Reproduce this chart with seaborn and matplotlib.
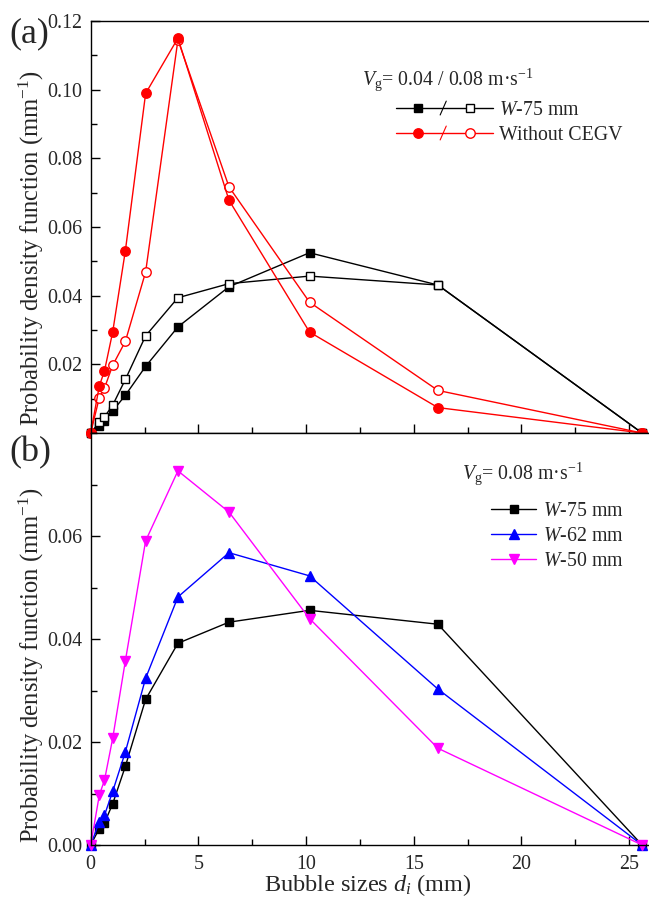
import numpy as np
import matplotlib
matplotlib.use("Agg")
import matplotlib.pyplot as plt
from matplotlib.lines import Line2D
from matplotlib.legend_handler import HandlerBase
from matplotlib.ticker import MultipleLocator, FixedLocator
import seaborn as sns

# ---------------- data ----------------
sizes = [0, 0.40, 0.64, 1.02, 1.61, 2.55, 4.05, 6.42, 10.16, 16.12, 25.6]

# panel (a): Vg = 0.04 (filled) / 0.08 (open)
w75_004 = [0, 0.0020, 0.0036, 0.0064, 0.0110, 0.0194, 0.0309, 0.0426, 0.0525, 0.0431, 0]
w75_008a = [0, 0.0032, 0.0047, 0.0081, 0.0156, 0.0283, 0.0394, 0.0435, 0.0457, 0.0431, 0]
noc_004 = [0, 0.0137, 0.0181, 0.0294, 0.0531, 0.0989, 0.1150, 0.0678, 0.0294, 0.0074, 0]
noc_008 = [0, 0.0103, 0.0131, 0.0197, 0.0267, 0.0469, 0.1145, 0.0717, 0.0381, 0.0124, 0]

# panel (b): Vg = 0.08
w75_b = [0, 0.0032, 0.0043, 0.0080, 0.0153, 0.0283, 0.0392, 0.0433, 0.0456, 0.0429, 0]
w62_b = [0, 0.0045, 0.0058, 0.0104, 0.0181, 0.0324, 0.0482, 0.0568, 0.0523, 0.0303, 0]
w50_b = [0, 0.0097, 0.0126, 0.0207, 0.0358, 0.0591, 0.0727, 0.0647, 0.0440, 0.0188, 0]

legend_a = ["$W$-75 mm", "Without CEGV"]
legend_b = ["$W$-75 mm", "$W$-62 mm", "$W$-50 mm"]
title_a = "$V_{\\mathregular{g}}$= 0.04 / 0.08 m\u00b7s$^{\\mathregular{-1}}$"
title_b = "$V_{\\mathregular{g}}$= 0.08 m\u00b7s$^{\\mathregular{-1}}$"
ylab = "Probability density function (mm$^{\\mathregular{-1}}$)"
xlab = "Bubble sizes $d_{i}$ (mm)"

# ---------------- style ----------------
sns.set_style("ticks")
plt.rcParams["font.family"] = ["Liberation Serif", "DejaVu Serif"]
plt.rcParams["mathtext.fontset"] = "custom"
plt.rcParams["mathtext.rm"] = "Liberation Serif"
plt.rcParams["mathtext.it"] = "Liberation Serif:italic"
plt.rcParams["mathtext.bf"] = "Liberation Serif:bold"
plt.rcParams["axes.linewidth"] = 1.0

RED = "#FF0000"
BLUE = "#0000FF"
MAG = "#FF00FF"
BLK = "#000000"

fig = plt.figure(figsize=(6.49, 8.99), dpi=100)
W, H = 649, 899
axL, axR = 90.7, 650.7
ax_a = fig.add_axes([axL / W, 1 - 433 / H, (axR - axL) / W, (433 - 21) / H])
ax_b = fig.add_axes([axL / W, 1 - 845 / H, (axR - axL) / W, (845 - 433.3) / H])


def draw(ax, y, color, marker, ms, filled):
    sns.lineplot(x=np.array(sizes), y=np.array(y), ax=ax, color=color,
                 marker=marker, markersize=ms, linewidth=1.0,
                 markerfacecolor=color if filled else "white",
                 markeredgecolor=color, markeredgewidth=1.0,
                 clip_on=False, legend=False, sort=False)


draw(ax_a, w75_004, BLK, "s", 6.0, True)
draw(ax_a, w75_008a, BLK, "s", 6.0, False)
draw(ax_a, noc_008, RED, "o", 6.8, False)
draw(ax_a, noc_004, RED, "o", 6.8, True)

draw(ax_b, w75_b, BLK, "s", 6.0, True)
draw(ax_b, w62_b, BLUE, "^", 7.5, True)
draw(ax_b, w50_b, MAG, "v", 7.5, True)

for ax in (ax_a, ax_b):
    ax.set_xlim(0, 26)
    ax.xaxis.set_major_locator(MultipleLocator(5))
    ax.xaxis.set_minor_locator(MultipleLocator(2.5))
    ax.yaxis.set_minor_locator(MultipleLocator(0.01))
    ax.tick_params(axis="both", which="major", direction="in", length=6.7,
                   width=1.0, labelsize=14.4, pad=6, color="black")
    ax.tick_params(axis="both", which="minor", direction="in", length=4.5,
                   width=1.0, color="black")
    ax.tick_params(axis="x", which="major", pad=7)
    ax.spines["right"].set_visible(False)
    ax.tick_params(right=False, top=False, which="both")
    for s in ("left", "bottom", "top"):
        ax.spines[s].set_color("black")

ax_a.set_ylim(0, 0.12)
ax_a.yaxis.set_major_locator(FixedLocator([0.02, 0.04, 0.06, 0.08, 0.10, 0.12]))
ax_a.yaxis.set_major_formatter(plt.FuncFormatter(lambda v, p: f"{v:.2f}"))
ax_a.set_xticklabels([])
ax_a.set_xlabel("")

ax_b.set_ylim(0, 0.08)
ax_b.yaxis.set_major_locator(FixedLocator([0.0, 0.02, 0.04, 0.06]))
ax_b.yaxis.set_major_formatter(plt.FuncFormatter(lambda v, p: f"{v:.2f}"))
ax_b.set_xlabel(xlab, fontsize=17.5, labelpad=0)
ax_b.xaxis.set_label_coords(0.495, -0.066)

ax_a.set_ylabel(ylab, fontsize=17.7)
ax_b.set_ylabel(ylab, fontsize=17.7)
ax_a.yaxis.set_label_coords(-0.08, 0.45)
ax_b.yaxis.set_label_coords(-0.08, 0.437)


# ---------------- legends ----------------
class PairHandler(HandlerBase):
    def __init__(self, mk, ms):
        super().__init__()
        self.mk = mk
        self.ms = ms

    def create_artists(self, legend, orig_handle, xdescent, ydescent,
                       width, height, fontsize, trans):
        color = orig_handle.get_color()
        y = height / 2 - ydescent
        x0 = -xdescent
        line = Line2D([x0, x0 + width], [y, y], color=color, lw=1.0)
        m1 = Line2D([x0 + 0.227 * width], [y], marker=self.mk, color=color,
                    markersize=self.ms, markerfacecolor=color,
                    markeredgecolor=color, linestyle="none")
        m2 = Line2D([x0 + 0.763 * width], [y], marker=self.mk, color=color,
                    markersize=self.ms, markerfacecolor="white",
                    markeredgecolor=color, markeredgewidth=1.0, linestyle="none")
        xs = x0 + 0.485 * width
        sl = Line2D([xs - 2.2, xs + 2.2], [y - 5.0, y + 5.0], color=color, lw=0.8)
        arts = [line, sl, m1, m2]
        for a in arts:
            a.set_transform(trans)
        return arts


h1 = Line2D([], [], color=BLK)
h2 = Line2D([], [], color=RED)
ax_a.legend(handles=[h1, h2], labels=legend_a, loc="upper left",
            bbox_to_anchor=((396 - axL) / 560, (433 - 101) / 412),
            frameon=False, fontsize=14.3, handlelength=4.9,
            handletextpad=0.3, labelspacing=0.3, borderpad=0,
            borderaxespad=0,
            handler_map={h1: PairHandler("s", 6.0), h2: PairHandler("o", 6.8)})

ax_a.text((362 - axL) / 560, (433 - 80) / 412, title_a, transform=ax_a.transAxes,
          fontsize=14.3, ha="left", va="center")

hb = [Line2D([], [], color=BLK, marker="s", markersize=6.0, lw=1.0),
      Line2D([], [], color=BLUE, marker="^", markersize=7.5, lw=1.0),
      Line2D([], [], color=MAG, marker="v", markersize=7.5, lw=1.0)]
ax_b.legend(handles=hb, labels=legend_b, loc="upper left",
            bbox_to_anchor=((491 - axL) / 560, (845 - 502) / 412),
            frameon=False, fontsize=14.3, handlelength=2.27,
            handletextpad=0.35, labelspacing=0.3, borderpad=0,
            borderaxespad=0)
ax_b.text((462 - axL) / 560, (845 - 473) / 412, title_b, transform=ax_b.transAxes,
          fontsize=14.3, ha="left", va="center")

fig.text(9 / W, 1 - 34 / H, "(a)", fontsize=26, ha="left", va="center")
fig.text(9 / W, 1 - 453 / H, "(b)", fontsize=26, ha="left", va="center")

fig.savefig("out.png", dpi=100)
